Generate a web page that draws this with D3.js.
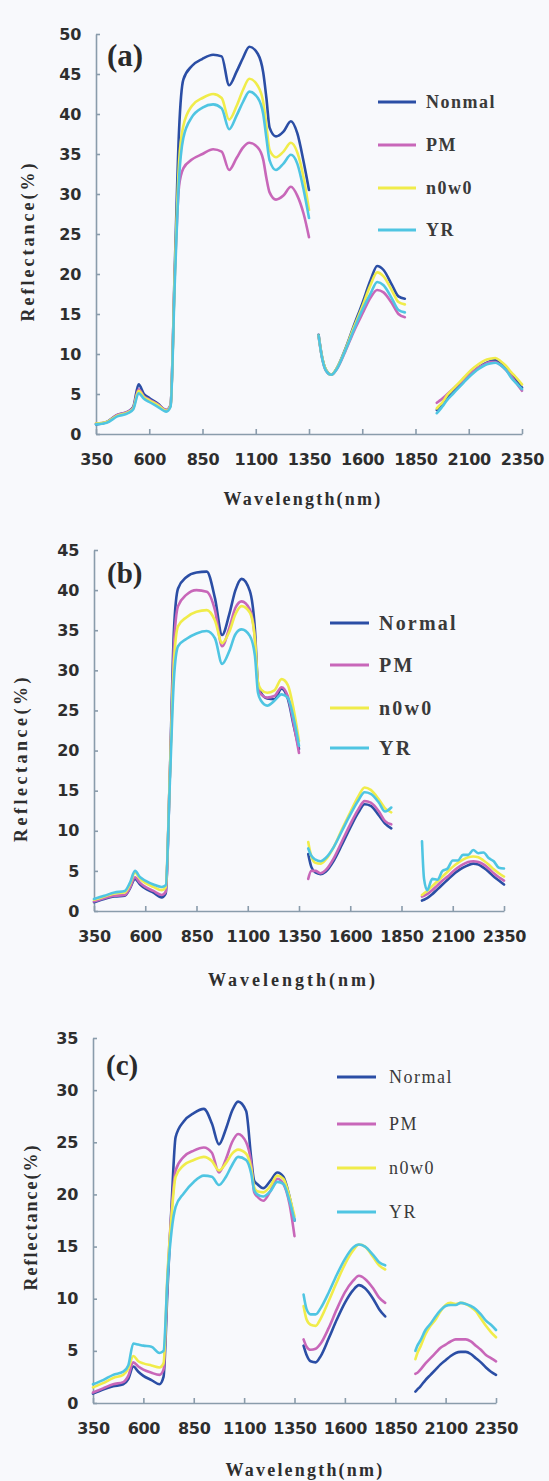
<!DOCTYPE html>
<html><head><meta charset="utf-8">
<script src="https://cdn.jsdelivr.net/npm/d3@7"></script>
<style>body{margin:0;background:#f8f9fc}svg{display:block}</style>
</head><body><svg id="chart" width="549" height="1481"></svg>
<script>
// ---------- data ----------
const wavelengths = [350,400,450,500,525,550,575,600,640,680,700,720,740,760,800,850,900,940,975,1010,1040,1070,1110,1135,1150,1165,1195,1230,1265,1295,1325,1350,
  null,
  1395,1410,1430,1455,1480,1520,1560,1600,1640,1670,1700,1740,1770,1800,
  null,
  1950,1960,1975,2000,2025,2050,2075,2100,2125,2150,2175,2200,2225,2250,2275,2300,2325,2350];

const xTickValues = [350,600,850,1100,1350,1600,1850,2100,2350];
const yTicksA = [0,5,10,15,20,25,30,35,40,45,50];
const yTicksB = [0,5,10,15,20,25,30,35,40,45];
const yTicksC = [0,5,10,15,20,25,30,35];
const legendNamesA = ["Nonmal","PM","n0w0","YR"];
const legendNamesB = ["Normal","PM","n0w0","YR"];
const legendNamesC = ["Normal","PM","n0w0","YR"];
const panelLabels = ["(a)","(b)","(c)"];
const xTitle = "Wavelength(nm)";
const yTitle = "Reflectance(%)";

// panel (a)
const normalA = [1.2,1.5,2.4,2.8,3.4,6.2,5.0,4.5,3.8,3.0,3.6,21,38,44.3,46,46.9,47.4,47.2,43.6,45.3,47,48.4,47.5,45.2,42,38.3,37.2,37.8,39.1,37.6,34,30.5,
  null, 12.4,9.8,8.0,7.4,8.2,10.6,13.5,16.3,19.3,21.0,20.5,18.6,17.2,16.9,
  null, 3.0,3.3,3.7,4.6,5.3,6.0,6.7,7.4,7.9,8.4,8.8,9.1,9.2,8.8,8.2,7.4,6.6,5.8];
const pmA = [1.3,1.5,2.4,2.8,3.3,5.6,4.7,4.3,3.7,3.0,3.6,20,31,33.2,34.3,35.0,35.6,35.3,33.0,34.5,35.8,36.4,35.8,34.3,32,30.2,29.3,29.8,30.9,29.8,27.5,24.6,
  null, 12.2,9.7,7.9,7.4,8.1,10.3,12.8,15.0,17.1,18.0,17.7,16.3,15.0,14.6,
  null, 3.9,4.1,4.4,5.0,5.6,6.2,6.8,7.4,7.9,8.4,8.7,9.0,9.0,8.6,8.0,7.2,6.3,5.4];
const n0w0A = [1.3,1.5,2.3,2.7,3.2,5.4,4.6,4.2,3.6,2.9,3.5,20,34,38.5,41,42,42.5,42,39.3,41,43,44.4,43.5,41.5,38.5,35.5,34.6,35.3,36.4,35.2,32,28,
  null, 12.3,9.8,8.0,7.4,8.2,10.5,13.3,15.9,18.7,20.2,19.7,17.9,16.5,16.2,
  null, 3.2,3.5,3.9,4.9,5.6,6.3,7.0,7.7,8.3,8.8,9.2,9.4,9.5,9.1,8.5,7.7,7.0,6.2];
const yrA = [1.2,1.4,2.2,2.6,3.1,5.1,4.4,4.0,3.4,2.8,3.4,19,32,37,39.6,40.8,41.2,40.7,38.1,39.8,41.5,42.8,42,40,37,34.2,33,33.8,34.9,33.8,30.5,27,
  null, 12.3,9.7,7.9,7.4,8.1,10.4,13.0,15.5,17.6,19.0,18.6,16.9,15.5,15.2,
  null, 2.6,2.9,3.4,4.3,5.0,5.7,6.4,7.1,7.7,8.2,8.6,8.8,8.9,8.6,8.0,7.0,6.3,5.6];

// panel (b)
const normalB = [1.1,1.5,1.8,1.9,2.8,4.0,3.3,2.8,2.3,1.7,2.2,17,35,40.2,41.6,42.2,42.3,39.0,34.4,37,40,41.4,39.9,35.1,28.3,27.2,26.5,26.4,27.7,26.5,23,20.2,
  null, 7.1,5.5,4.8,4.6,4.9,6.3,8.3,10.4,12.3,13.3,13.1,11.9,10.9,10.3,
  null, 1.3,1.4,1.6,2.1,2.7,3.3,3.9,4.5,5.0,5.4,5.7,5.9,5.8,5.4,4.9,4.3,3.8,3.3];
const pmB = [1.2,1.6,1.9,2.0,2.9,4.2,3.5,3.0,2.5,2.0,2.4,17,33,38,39.4,40.0,39.8,37.5,33.0,35.3,37.8,38.6,37.6,33.9,28,27,26.6,26.8,27.9,26.8,23.2,19.7,
  null, 4.0,5.0,5.0,4.7,5.1,6.6,8.7,10.8,12.7,13.7,13.5,12.4,11.2,10.8,
  null, 1.8,1.9,2.1,2.6,3.2,3.8,4.3,4.9,5.4,5.8,6.1,6.2,6.1,5.8,5.3,4.7,4.2,3.8];
const n0w0B = [1.4,1.8,2.2,2.3,3.3,4.8,4.0,3.5,3.0,2.6,3.0,17,31,35.5,36.6,37.3,37.5,36.2,33.4,34.8,37,38,37.2,33.9,28.5,27.6,27.2,27.5,28.9,28.2,25,21.2,
  null, 8.6,6.8,6.0,5.9,6.4,8.0,10.2,12.3,14.3,15.4,15.1,13.9,12.8,12.3,
  null, 2.0,2.2,2.5,3.1,3.7,4.3,4.9,5.5,6.0,6.4,6.7,6.8,6.7,6.3,5.8,5.2,4.7,4.3];
const yrB = [1.5,1.9,2.3,2.5,3.5,5.0,4.2,3.8,3.3,3.0,3.2,16,29,33,33.9,34.6,34.9,34,30.8,32.4,34.5,35.1,34.3,31.8,27.2,26.2,25.6,26.2,27.0,26.6,23.9,20.6,
  null, 7.8,6.9,6.4,6.2,6.6,8.0,10.0,12.0,13.8,14.8,14.6,13.5,12.4,12.9,
  null, 8.7,4.0,2.6,4.0,3.9,5.0,5.3,6.3,6.3,7.0,7.0,7.6,7.2,7.3,6.6,6.2,5.4,5.3];

// panel (c)
const normalC = [0.9,1.3,1.6,1.8,2.3,3.5,3.0,2.6,2.2,1.8,2.5,11,19,25.5,27,27.8,28.2,26.8,24.8,26.3,28,28.9,28.0,23.5,21.3,21,20.6,21.3,22.1,21.7,19.8,17.5,
  null, 5.5,4.6,4.0,3.9,4.5,6.2,8.0,9.6,10.8,11.3,11.0,10.0,9.0,8.3,
  null, 1.1,1.3,1.6,2.2,2.7,3.2,3.7,4.1,4.5,4.8,4.9,4.9,4.7,4.3,3.9,3.4,3.0,2.7];
const pmC = [1.0,1.4,1.8,2.0,2.6,3.9,3.5,3.2,2.9,2.7,3.2,12,18.5,22.3,23.6,24.2,24.5,24.0,22.1,23.4,25,25.8,25.0,23.0,20.2,19.8,19.4,20.3,21.5,21,19.1,16,
  null, 6.1,5.4,5.1,5.2,5.7,7.2,9.0,10.6,11.7,12.2,11.9,11.0,10.1,9.6,
  null, 2.8,2.9,3.2,3.8,4.3,4.8,5.3,5.6,5.9,6.1,6.1,6.1,5.9,5.5,5.1,4.6,4.3,4.0];
const n0w0C = [1.5,1.9,2.4,2.7,3.3,4.5,4.0,3.8,3.6,3.4,3.8,12.5,18,21.7,22.8,23.3,23.6,23.2,22.3,23,23.9,24.3,23.9,22.5,20.7,20.3,20.2,20.8,21.8,21.5,19.8,17.9,
  null, 9.3,8.0,7.5,7.4,8.1,9.8,11.6,13.3,14.6,15.2,15.0,14.0,13.2,12.8,
  null, 4.2,4.8,5.4,6.6,7.4,8.0,8.8,9.4,9.6,9.5,9.6,9.5,9.2,8.8,8.1,7.4,6.8,6.3];
const yrC = [1.8,2.2,2.7,3.0,3.6,5.7,5.6,5.5,5.4,4.8,5.0,12,16.5,18.8,20.1,21.2,21.8,21.7,20.9,21.7,22.8,23.6,23.3,22,20.4,20.0,19.8,20.3,21.2,21,19.4,17.5,
  null, 10.4,9.0,8.5,8.5,9.1,10.6,12.3,13.8,14.9,15.2,15.0,14.2,13.5,13.2,
  null, 5.0,5.5,6.0,7.0,7.6,8.3,8.9,9.3,9.4,9.4,9.6,9.5,9.3,9.0,8.5,7.9,7.5,7.0];

const seriesColors = ["#2b4ea5","#c867b9","#f0ec4a","#4fc5e2"];

// ---------- layout (positions only) ----------
const panels = [
  {label:panelLabels[0], names:legendNamesA, series:[normalA,pmA,n0w0A,yrA], yTicks:yTicksA,
   x0:96, x1:522, yB:434, yT:34, labelPos:[107,66], labelSize:31,
   legX:378, legLen:38, legTextX:426, legY:[102,145,188,230], legSize:18, legSpacing:1.5, legWeight:"bold",
   xTitlePos:[303,505], xTitleSpacing:2.2, yTitlePos:[28,241], yTitleSpacing:3},
  {label:panelLabels[1], names:legendNamesB, series:[normalB,pmB,n0w0B,yrB], yTicks:yTicksB,
   x0:94, x1:504, yB:911, yT:550, labelPos:[107,583], labelSize:29,
   legX:330, legLen:39, legTextX:379, legY:[623,665,708,748], legSize:20, legSpacing:2.2, legWeight:"bold",
   xTitlePos:[293,986], xTitleSpacing:3, yTitlePos:[21,758], yTitleSpacing:3.5},
  {label:panelLabels[2], names:legendNamesC, series:[normalC,pmC,n0w0C,yrC], yTicks:yTicksC,
   x0:93, x1:496, yB:1403, yT:1038, labelPos:[106,1075], labelSize:29,
   legX:337, legLen:39, legTextX:389, legY:[1077,1124,1168,1212], legSize:18, legSpacing:1.5, legWeight:"normal",
   xTitlePos:[305,1476], xTitleSpacing:2.2, yTitlePos:[31,1217], yTitleSpacing:2}
];

const svg = d3.select("#chart");
svg.append("rect").attr("width",549).attr("height",1481).attr("fill","#f8f9fc");

panels.forEach(p => {
  const x = d3.scaleLinear().domain([350,2350]).range([p.x0,p.x1]);
  const y = d3.scaleLinear().domain([0,d3.max(p.yTicks)]).range([p.yB,p.yT]);
  const g = svg.append("g");

  const xa = g.append("g").attr("transform",`translate(0,${p.yB})`)
    .call(d3.axisBottom(x).tickValues(xTickValues).tickSize(-5).tickSizeOuter(0).tickPadding(20).tickFormat(d3.format("d")));
  const ya = g.append("g").attr("transform",`translate(${p.x0},0)`)
    .call(d3.axisLeft(y).tickValues(p.yTicks).tickSize(-4).tickSizeOuter(0).tickPadding(15).tickFormat(d3.format("d")));
  [xa,ya].forEach(a=>{
    a.selectAll("path,line").attr("stroke","#8a9cab").attr("stroke-width",1.6);
    a.selectAll("text").attr("fill","#2e2e2e").style("font-family","'DejaVu Sans',Verdana,sans-serif")
      .style("font-weight","bold").style("font-size","16px").style("letter-spacing","-0.3px");
  });

  const line = d3.line()
    .defined((d,i)=>wavelengths[i]!==null && d!==null)
    .x((d,i)=>x(wavelengths[i])).y(d=>y(d))
    .curve(d3.curveMonotoneX);

  p.series.forEach((s,k)=>{
    g.append("path").datum(s).attr("d",line).attr("fill","none")
      .attr("stroke",seriesColors[k]).attr("stroke-width",2.6)
      .attr("stroke-linejoin","round").attr("stroke-linecap","round");
  });

  // panel label
  g.append("text").attr("x",p.labelPos[0]).attr("y",p.labelPos[1]).text(p.label)
    .style("font-family","'Liberation Serif','Times New Roman',serif").style("font-weight","bold")
    .style("font-size",p.labelSize+"px").attr("fill","#2a2a2a");

  // legend
  p.names.forEach((n,k)=>{
    g.append("line").attr("x1",p.legX).attr("x2",p.legX+p.legLen)
      .attr("y1",p.legY[k]).attr("y2",p.legY[k])
      .attr("stroke",seriesColors[k]).attr("stroke-width",3.2);
    g.append("text").attr("x",p.legTextX).attr("y",p.legY[k]).attr("dy","0.35em").text(n)
      .style("font-family","'Liberation Serif','Times New Roman',serif").style("font-weight",p.legWeight)
      .style("font-size",p.legSize+"px").style("letter-spacing",p.legSpacing+"px").attr("fill","#3a3a3a");
  });

  // axis titles
  g.append("text").attr("x",p.xTitlePos[0]).attr("y",p.xTitlePos[1]).attr("text-anchor","middle").text(xTitle)
    .style("font-family","'Liberation Serif','Times New Roman',serif").style("font-weight","bold")
    .style("font-size","18px").style("letter-spacing",p.xTitleSpacing+"px").attr("fill","#2e2e2e");
  g.append("text").attr("transform",`translate(${p.yTitlePos[0]},${p.yTitlePos[1]}) rotate(-90)`)
    .attr("text-anchor","middle").attr("dy","0.35em").text(yTitle)
    .style("font-family","'Liberation Serif','Times New Roman',serif").style("font-weight","bold")
    .style("font-size","18px").style("letter-spacing",p.yTitleSpacing+"px").attr("fill","#2e2e2e");
});
</script></body></html>
